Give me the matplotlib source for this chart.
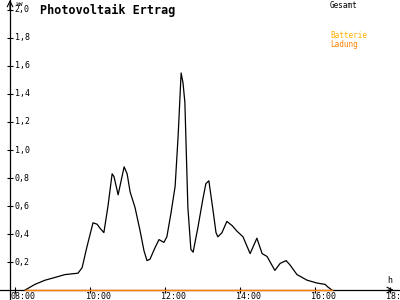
import matplotlib
matplotlib.use("Agg")
import matplotlib.pyplot as plt

# Gesamt (kW) over the day, time in decimal hours
hours = [8.27, 8.53, 8.80, 9.07, 9.33, 9.68, 9.79, 9.92, 10.08, 10.19,
         10.27, 10.37, 10.48, 10.59, 10.64, 10.75, 10.91, 10.99, 11.07, 11.20,
         11.33, 11.44, 11.52, 11.60, 11.73, 11.84, 11.97, 12.05, 12.16, 12.27,
         12.35, 12.43, 12.48, 12.53, 12.61, 12.69, 12.75, 12.88, 13.01, 13.09,
         13.17, 13.28, 13.36, 13.41, 13.52, 13.65, 13.79, 13.92, 14.08, 14.27,
         14.45, 14.59, 14.72, 14.93, 15.07, 15.23, 15.33, 15.52, 15.79, 16.05,
         16.27, 16.35, 16.45]
gesamt = [0.00, 0.04, 0.07, 0.09, 0.11, 0.12, 0.16, 0.31, 0.48, 0.47,
          0.44, 0.41, 0.60, 0.83, 0.81, 0.68, 0.88, 0.83, 0.70, 0.59,
          0.43, 0.28, 0.21, 0.22, 0.30, 0.36, 0.34, 0.38, 0.55, 0.74,
          1.10, 1.55, 1.48, 1.34, 0.59, 0.29, 0.27, 0.45, 0.65, 0.76,
          0.78, 0.57, 0.41, 0.38, 0.41, 0.49, 0.46, 0.42, 0.38, 0.26,
          0.37, 0.26, 0.24, 0.14, 0.19, 0.21, 0.18, 0.11, 0.07, 0.05,
          0.04, 0.02, 0.00]
ladung = [0.0] * len(hours)

x_ticks = [8, 10, 12, 14, 16, 18]
x_labels = ["08:00", "10:00", "12:00", "14:00", "16:00", "18:00"]
y_ticks = [0.2, 0.4, 0.6, 0.8, 1.0, 1.2, 1.4, 1.6, 1.8, 2.0]
y_labels = ["0,2", "0,4", "0,6", "0,8", "1,0", "1,2", "1,4", "1,6", "1,8", "2,0"]

MONO = "DejaVu Sans Mono"
ORANGE = "#ff8000"
AMBER = "#ffb000"

fig = plt.figure(figsize=(4, 3), dpi=100)
ax = fig.add_axes([0, 0, 1, 1])
ax.set_xlim(7.6, 18.2667)
ax.set_ylim(-0.0714, 2.0714)
x_axis = 7.8667

for side in ("top", "right"):
    ax.spines[side].set_visible(False)
ax.spines["left"].set_position(("data", x_axis))
ax.spines["bottom"].set_position(("data", 0))
for side in ("left", "bottom"):
    ax.spines[side].set_linewidth(0.9)

ax.set_xticks(x_ticks)
ax.set_yticks(y_ticks)
ax.tick_params(direction="inout", length=4.5, width=0.8, labelleft=False, labelbottom=False)

for h, lab in zip(x_ticks, x_labels):
    ax.text(h - 0.11, -0.043, lab, family=MONO, fontsize=6, ha="left", va="center",
            clip_on=False)
for v, lab in zip(y_ticks, y_labels):
    ax.text(x_axis + 0.13, v, lab, family=MONO, fontsize=6, ha="left", va="center")

ax.text(x_axis + 0.13, 2.042, "kW", family=MONO, fontsize=4.5, ha="left", va="center")
ax.text(18.0, 0.065, "h", family=MONO, fontsize=6, ha="center", va="center")

# axis arrow heads
ax.annotate("", xy=(x_axis, 2.0714), xytext=(x_axis, 2.0),
            arrowprops=dict(arrowstyle="->", lw=0.8, color="black", shrinkA=0, shrinkB=0))
ax.annotate("", xy=(18.1, 0), xytext=(17.95, 0),
            arrowprops=dict(arrowstyle="->", lw=0.8, color="black", shrinkA=0, shrinkB=0))

ax.plot(hours, gesamt, color="black", lw=0.9, zorder=3)
ax.plot(hours, ladung, color=ORANGE, lw=1.0, zorder=4)

fig.text(40 / 400, 1 - 10 / 300, "Photovoltaik Ertrag", family=MONO, fontsize=8.5,
         fontweight="bold", ha="left", va="center")
fig.text(330 / 400, 1 - 5 / 300, "Gesamt", family=MONO, fontsize=5.5, ha="left", va="center")
fig.text(330 / 400, 1 - 36 / 300, "Batterie", family=MONO, fontsize=5.5, color=AMBER,
         ha="left", va="center")
fig.text(330 / 400, 1 - 44 / 300, "Ladung", family=MONO, fontsize=5.5, color=ORANGE,
         ha="left", va="center")

fig.savefig("out.png", dpi=100)
